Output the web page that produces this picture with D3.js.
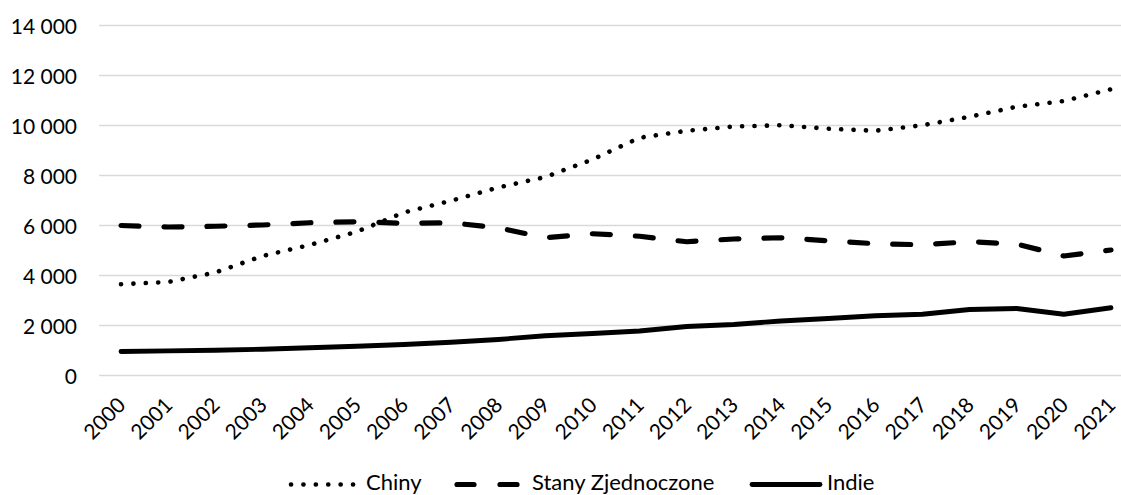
<!DOCTYPE html>
<html>
<head>
<meta charset="utf-8">
<script src="https://cdn.jsdelivr.net/npm/d3@7"></script>
<style>
  html, body { margin: 0; padding: 0; background: #fff; }
  svg { display: block; font-family: Lato, "Open Sans", sans-serif; }
</style>
</head>
<body>
<svg id="chart" width="1121" height="495"></svg>
<script>
// Years on the category axis
const years = ["2000","2001","2002","2003","2004","2005","2006","2007","2008","2009","2010",
               "2011","2012","2013","2014","2015","2016","2017","2018","2019","2020","2021"];

// Series values
const chiny = [3650, 3740, 4120, 4780, 5220, 5750, 6520, 6990, 7520, 7940, 8640,
               9510, 9790, 9960, 10010, 9870, 9790, 10010, 10350, 10750, 10980, 11450];
const stanyZjednoczone = [6000, 5940, 5970, 6020, 6110, 6150, 6090, 6110, 5910, 5510, 5670,
                          5570, 5350, 5460, 5510, 5390, 5270, 5230, 5350, 5260, 4780, 5020];
const indie = [960, 985, 1010, 1050, 1110, 1170, 1240, 1330, 1440, 1590, 1680,
               1780, 1960, 2040, 2180, 2280, 2390, 2450, 2640, 2680, 2450, 2710];

// Value axis ticks
const yTicks = [0, 2000, 4000, 6000, 8000, 10000, 12000, 14000];

const series = [
  { name: "Chiny", values: chiny, dash: "0.1 12.3", width: 4.6 },
  { name: "Stany Zjednoczone", values: stanyZjednoczone, dash: "18 25", width: 5.2 },
  { name: "Indie", values: indie, dash: null, width: 4.8 }
];

const svg = d3.select("#chart");

const x = d3.scalePoint()
  .domain(years)
  .range([121, 1111]);

const y = d3.scaleLinear()
  .domain([0, 14000])
  .range([375.5, 25.5]);

const spaced = d => d3.format(",")(d).replace(/,/g, " ");

// Horizontal gridlines
svg.append("g")
  .selectAll("line")
  .data(yTicks)
  .join("line")
  .attr("x1", 99)
  .attr("x2", 1121)
  .attr("y1", d => y(d))
  .attr("y2", d => y(d))
  .attr("stroke", "#d9d9d9")
  .attr("stroke-width", 1.5);

// Value axis labels
const yAxis = d3.axisLeft(y)
  .tickValues(yTicks)
  .tickSize(0)
  .tickPadding(0)
  .tickFormat(spaced);

svg.append("g")
  .attr("transform", "translate(77,0)")
  .call(yAxis)
  .call(g => g.select(".domain").remove())
  .call(g => g.selectAll("text")
    .attr("font-size", 21)
    .attr("font-family", "Lato, 'Open Sans', sans-serif")
    .attr("fill", "#000")
    .attr("dy", "0.36em"));

// Category axis labels, rotated
const xAxis = d3.axisBottom(x).tickSize(0).tickPadding(0);
svg.append("g")
  .attr("transform", "translate(0,388)")
  .call(xAxis)
  .call(g => g.select(".domain").remove())
  .call(g => g.selectAll("text")
    .attr("font-size", 21)
    .attr("font-family", "Lato, 'Open Sans', sans-serif")
    .attr("fill", "#000")
    .attr("text-anchor", "end")
    .attr("dy", "0.36em")
    .attr("y", 0)
    .attr("transform", "translate(0,13) rotate(-45)"));

// Lines
const line = d3.line()
  .x((d, i) => x(years[i]))
  .y(d => y(d));

svg.append("g")
  .selectAll("path")
  .data(series)
  .join("path")
  .attr("d", d => line(d.values))
  .attr("fill", "none")
  .attr("stroke", "#000")
  .attr("stroke-width", d => d.width)
  .attr("stroke-linecap", "round")
  .attr("stroke-linejoin", "round")
  .attr("stroke-dasharray", d => d.dash);

// Legend
const legendItems = [
  { s: series[0], x1: 291, x2: 355, tx: 366 },
  { s: series[1], x1: 457, x2: 521, tx: 532 },
  { s: series[2], x1: 752, x2: 820, tx: 827 }
];
const legendY = 484.5;
const legend = svg.append("g");
legend.selectAll("line")
  .data(legendItems)
  .join("line")
  .attr("x1", d => d.x1)
  .attr("x2", d => d.x2)
  .attr("y1", legendY)
  .attr("y2", legendY)
  .attr("stroke", "#000")
  .attr("stroke-width", d => d.s.width)
  .attr("stroke-linecap", "round")
  .attr("stroke-dasharray", d => d.s.name === "Stany Zjednoczone" ? "17 26" : d.s.dash);
legend.selectAll("text")
  .data(legendItems)
  .join("text")
  .attr("x", d => d.tx)
  .attr("y", 490)
  .attr("font-size", 22)
  .attr("fill", "#000")
  .text(d => d.s.name);
</script>
</body>
</html>
